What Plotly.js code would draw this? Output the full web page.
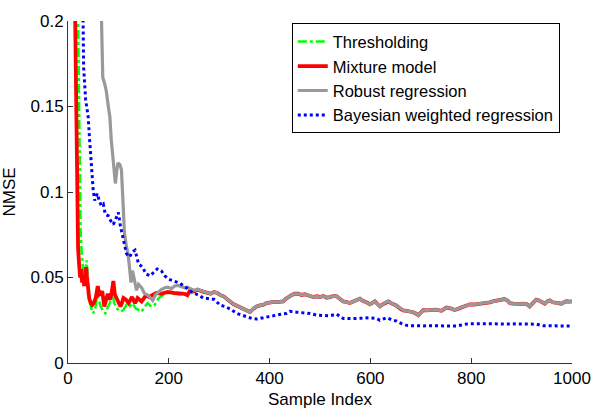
<!DOCTYPE html>
<html>
<head>
<meta charset="utf-8">
<script src="https://cdn.plot.ly/plotly-3.0.1.min.js"></script>
<style>html,body{margin:0;padding:0;background:#fff;}#chart{width:593px;height:409px;}</style>
</head>
<body>
<div id="chart"></div>
<script>
// Shared tail (x >= 257) where mixture model, thresholding and robust regression coincide
var tailX = [257,265,272,283,290,296,303,309,315,322,328,335,342,348,355,361,368,374,381,387,394,401,408,414,421,427,432,437,444,450,457,463,470,477,483,487,493,500,507,513,520,527,533,539,546,552,559,566,572,579,584,589,594,599,604,609,614,619,626,632,636,641,646,652,659,665,672,678,685,690,695,700,705,712,721,730,741,746,751,759,767,775,784,790,797,805,811,817,824,830,837,843,850,858,866,872,877,883,890,896,903,910,916,922,929,935,940,946,951,956,962,969,974,979,984,989,996,1000];
var tailY = [0.043,0.042,0.0415,0.0405,0.0415,0.041,0.0396,0.039,0.0375,0.0357,0.0345,0.0335,0.0325,0.0318,0.0305,0.0298,0.0318,0.033,0.0337,0.034,0.035,0.0355,0.0357,0.0356,0.0357,0.036,0.0375,0.0386,0.0398,0.0405,0.0405,0.0398,0.0402,0.0395,0.039,0.0386,0.039,0.0386,0.0392,0.0382,0.0385,0.0392,0.039,0.0375,0.036,0.0357,0.0351,0.036,0.0368,0.0376,0.0365,0.036,0.0352,0.0343,0.035,0.036,0.0345,0.0331,0.0345,0.0358,0.036,0.035,0.0343,0.0335,0.0318,0.0308,0.0305,0.0302,0.0297,0.029,0.0279,0.0295,0.031,0.0308,0.031,0.0312,0.0305,0.0315,0.0324,0.032,0.031,0.0318,0.0327,0.0335,0.0343,0.0342,0.0344,0.0345,0.0348,0.0352,0.0355,0.036,0.0363,0.0368,0.0374,0.0365,0.035,0.0347,0.0349,0.0346,0.0347,0.0345,0.0331,0.035,0.037,0.0365,0.0355,0.0347,0.036,0.0366,0.0355,0.035,0.0352,0.0347,0.0355,0.0361,0.0359,0.036];

// Thresholding (head)
var threshX = [16,20,21,22,23,24,25,27,29,31,33,35,37,39,41,43,46,50,54,58,61,65,70,74,78,83,88,92,96,100,105,110,116,122,128,134,140,146,152,158,165,172,180,190,200,210,220,235,250];
var threshY = [0.3,0.2,0.18,0.155,0.13,0.1,0.078,0.065,0.058,0.052,0.05,0.057,0.06,0.052,0.043,0.037,0.032,0.029,0.032,0.039,0.037,0.033,0.03,0.029,0.032,0.035,0.04,0.035,0.032,0.031,0.03,0.031,0.034,0.033,0.035,0.032,0.031,0.03,0.033,0.035,0.033,0.034,0.038,0.04,0.041,0.0405,0.04,0.04,0.0415];

// Mixture model (head)
var mixX = [10,14,15,16,17,18,19,20,22,24,26,28,30,32,34,36,38,40,42,45,48,51,55,59,62,65,68,72,75,79,83,86,88,90,93,97,101,104,107,110,115,120,124,127,133,138,146,150,155,161,168,175,185,198,210,220,231,237,243,250];
var mixY = [0.3,0.2,0.17,0.14,0.1,0.074,0.071,0.067,0.058,0.05,0.055,0.047,0.052,0.045,0.05,0.056,0.049,0.043,0.038,0.035,0.034,0.035,0.038,0.045,0.04,0.0405,0.042,0.033,0.036,0.0405,0.037,0.04,0.044,0.048,0.04,0.037,0.034,0.033,0.035,0.038,0.037,0.035,0.037,0.0386,0.035,0.038,0.036,0.038,0.0396,0.0386,0.04,0.041,0.0405,0.0415,0.041,0.0405,0.0405,0.0396,0.043,0.042];

// Robust regression (head)
var robX = [62,67,69,73,76,80,83,86,90,92,94,97,99,103,106,109,112,116,119,122,125,128,132,136,140,146,152,157,162,168,174,180,185,192,198,205,212,218,225,232,237,245,250];
var robY = [0.26,0.195,0.167,0.163,0.159,0.15,0.144,0.13,0.118,0.111,0.105,0.113,0.117,0.116,0.113,0.095,0.076,0.068,0.064,0.056,0.047,0.054,0.048,0.0425,0.046,0.044,0.0405,0.04,0.0386,0.0366,0.04,0.042,0.043,0.044,0.0444,0.0435,0.045,0.0454,0.0445,0.044,0.0444,0.043,0.0425];

// Bayesian weighted regression
var bayX = [28,30,31,35,37,40,43,46,48,50,53,58,62,66,70,74,80,85,90,95,100,104,110,116,122,128,133,140,148,155,163,170,177,185,192,200,210,222,235,248,260,268,280,290,302,312,322,335,345,355,365,375,387,401,414,427,434,440,454,467,480,493,507,520,533,546,560,573,586,599,612,619,632,645,652,662,672,682,692,705,718,731,745,758,771,781,791,804,817,830,850,865,877,890,903,916,929,943,956,969,983,1000];
var bayY = [0.25,0.2,0.173,0.154,0.15,0.144,0.13,0.117,0.109,0.101,0.095,0.099,0.095,0.092,0.093,0.087,0.086,0.083,0.081,0.085,0.088,0.08,0.072,0.064,0.062,0.065,0.066,0.058,0.056,0.052,0.051,0.053,0.055,0.054,0.051,0.049,0.048,0.0466,0.044,0.041,0.0396,0.038,0.0376,0.0372,0.0338,0.033,0.0315,0.029,0.028,0.027,0.026,0.0257,0.0265,0.027,0.0279,0.0288,0.029,0.0302,0.0297,0.0295,0.029,0.028,0.0278,0.0276,0.0286,0.026,0.026,0.026,0.0262,0.0265,0.026,0.025,0.0265,0.025,0.0245,0.023,0.022,0.0218,0.0216,0.0217,0.0218,0.0218,0.0218,0.0216,0.0216,0.0222,0.0228,0.023,0.0229,0.0228,0.023,0.0229,0.0228,0.0229,0.0228,0.0229,0.0227,0.0218,0.0217,0.0216,0.0217,0.0216];

var seriesNames = ['Thresholding','Mixture model','Robust regression','Bayesian weighted regression'];
var xTicks = [0,200,400,600,800,1000];
var yTicks = [0,0.05,0.1,0.15,0.2];
var yTickText = ['0','0.05','0.1','0.15','0.2'];

var FONT = 'Liberation Sans, Arial, Helvetica, sans-serif';

var traces = [
  {x: threshX.concat(tailX), y: threshY.concat(tailY), name: seriesNames[0], mode: 'lines',
   line: {color: 'rgb(0,255,0)', width: 2.5, dash: 'dashdot'}},
  {x: mixX.concat(tailX), y: mixY.concat(tailY), name: seriesNames[1], mode: 'lines',
   line: {color: 'rgb(255,0,0)', width: 3.8}},
  {x: robX.concat(tailX), y: robY.concat(tailY), name: seriesNames[2], mode: 'lines',
   line: {color: 'rgb(153,153,153)', width: 3.2}},
  {x: bayX, y: bayY, name: seriesNames[3], mode: 'lines',
   line: {color: 'rgb(0,0,255)', width: 3, dash: 'dot'}}
];

var layout = {
  width: 593, height: 409,
  margin: {l: 68, r: 21, t: 21, b: 46, pad: 0},
  paper_bgcolor: '#fff', plot_bgcolor: '#fff',
  font: {family: FONT, size: 17, color: '#000'},
  showlegend: true,
  legend: {x: 0.444, y: 0.993, xanchor: 'left', yanchor: 'top',
    bgcolor: '#fff', bordercolor: '#000', borderwidth: 1,
    font: {family: FONT, size: 16.5, color: '#000'}, tracegroupgap: 0},
  xaxis: {range: [0, 1000], tickvals: xTicks, ticktext: xTicks.map(String),
    ticks: 'inside', ticklen: 5, tickcolor: '#333', showline: true, linecolor: '#333', linewidth: 1,
    showgrid: false, zeroline: false, mirror: false,
    title: {text: 'Sample Index', font: {family: FONT, size: 17}, standoff: 5},
    tickfont: {family: FONT, size: 17}},
  yaxis: {range: [0, 0.2], tickvals: yTicks, ticktext: yTickText,
    ticks: 'inside', ticklen: 5, tickcolor: '#333', showline: true, linecolor: '#333', linewidth: 1,
    showgrid: false, zeroline: false, mirror: false,
    title: {text: 'NMSE', font: {family: FONT, size: 17}, standoff: 10},
    tickfont: {family: FONT, size: 17}}
};

Plotly.newPlot('chart', traces, layout, {displayModeBar: false, staticPlot: true});
</script>
</body>
</html>
